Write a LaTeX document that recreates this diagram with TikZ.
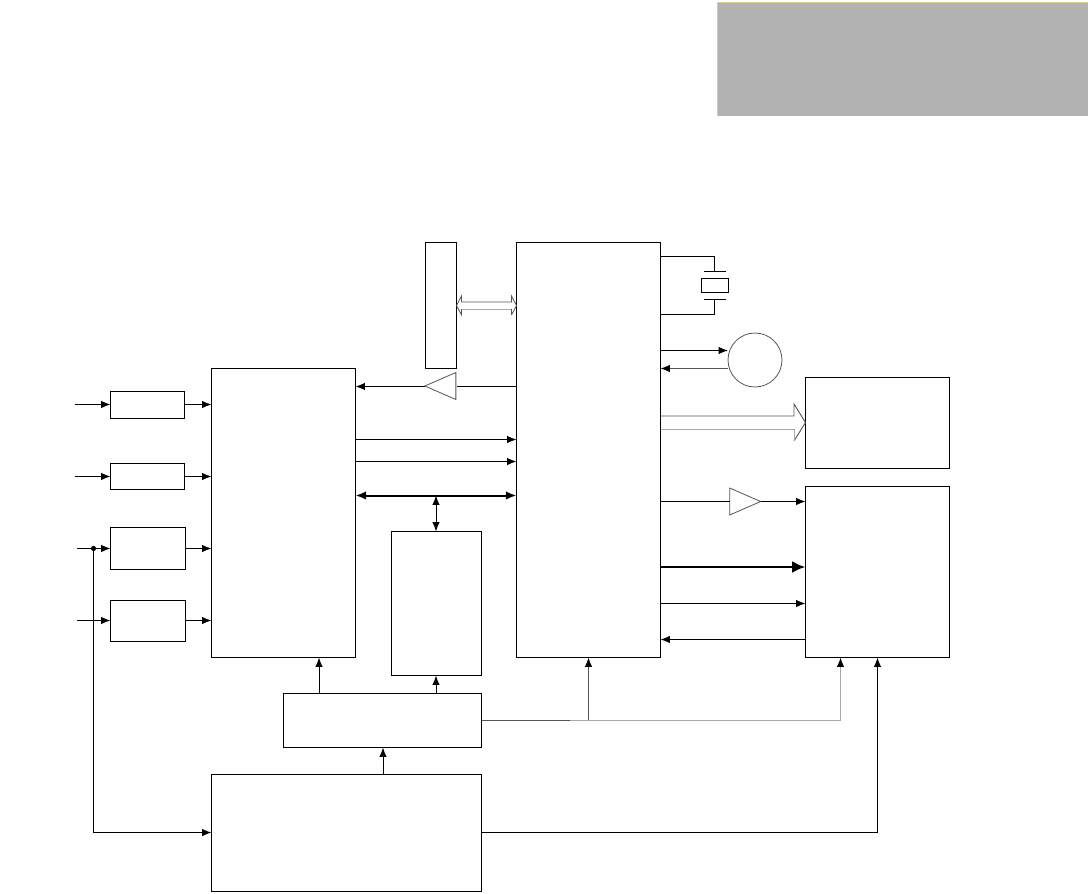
\documentclass[tikz,border=0pt]{standalone}
\usetikzlibrary{arrows.meta,shapes.geometric,calc}
\definecolor{panel}{HTML}{B2B2B2}
\definecolor{paneledge}{HTML}{DCCB92}
\definecolor{linedark}{HTML}{555555}
\definecolor{linelight}{HTML}{A8A8A8}
\newcommand{\bx}[5]{%
  \pgfmathsetmacro{\bxw}{(#4-#2)*0.75}\pgfmathsetmacro{\bxh}{(#5-#3)*0.75}%
  \node[boxn,minimum width=\bxw pt,minimum height=\bxh pt] (#1) at ({(#2+#4)/2+0.5},{(#3+#5)/2+0.5}) {};}
\tikzset{
  x=0.75pt,y=-0.75pt,
  boxn/.style={draw=black,line width=0.75pt,inner sep=0pt,outer sep=0pt,fill=white},
  conn/.style={draw=black,line width=0.75pt,-{Latex[length=7pt,width=5.5pt,color=black]}},
  plainconn/.style={draw=black,line width=0.75pt},
  biconn/.style={draw=black,line width=0.75pt,{Latex[length=7pt,width=5.5pt]}-{Latex[length=7pt,width=5.5pt]}},
  thickbi/.style={draw=black,line width=1.5pt,{Latex[length=8pt,width=6.5pt]}-{Latex[length=8pt,width=6.5pt]}},
  thickconn/.style={draw=black,line width=2pt,-{Latex[length=10pt,width=9pt]}},
  amp/.style={draw=linedark,line width=0.6pt,isosceles triangle,isosceles triangle stretches,inner sep=0pt,outer sep=0pt,fill=white,minimum width=27*0.75pt,minimum height=31*0.75pt},
  thin/.style={draw=linedark,line width=0.7pt},
  light/.style={draw=linelight,line width=0.7pt},
}
\begin{document}
\begin{tikzpicture}
\useasboundingbox (0,0) rectangle (1088,893);
% panel
\node[fill=panel,draw=none,inner sep=0pt,outer sep=0pt,minimum width=371*0.75pt,minimum height=114*0.75pt] (panel) at (902.5,59) {};
\draw[paneledge,line width=0.6pt] (panel.south west) -- (panel.north west) -- (panel.north east);
% boxes
\bx{sa}{110}{391}{184}{418}
\bx{sb}{110}{463}{184}{489}
\bx{sc}{110}{527}{185}{569}
\bx{sd}{110}{600}{185}{641}
\bx{main}{211}{368}{355}{657}
\bx{tall}{425}{242}{456}{368}
\bx{mcu}{516}{242}{660}{657}
\bx{cbox}{805}{377}{949}{468}
\bx{dbox}{805}{486}{949}{657}
\bx{ebox}{391}{531}{481}{675}
\bx{fbox}{283}{693}{481}{747}
\bx{gbox}{211}{774}{481}{891}
\bx{xtal}{701}{278}{728}{291.5}
\node[draw=linedark,line width=0.6pt,circle,inner sep=0pt,outer sep=0pt,minimum size=54*0.75pt] (disc) at (755,360) {};
\node[amp,shape border rotate=180] (ampl) at (447,386) {};
\node[amp] (ampr) at (738.5,501.5) {};
% free ends and levels
\coordinate (ina) at (75,404.5);
\coordinate (inb) at (75,476.5);
\coordinate (inc) at (77,548.5);
\coordinate (ind) at (77,620.5);
\coordinate (dot) at (93.5,548.5);
\coordinate (turn) at (93.5,832.5);
\coordinate (lv1) at (0,439.5);
\coordinate (lv2) at (0,461.5);
\coordinate (lv3) at (0,495.5);
\coordinate (lv4) at (0,386.5);
\coordinate (lv5) at (0,350.5);
\coordinate (lv6) at (0,368.5);
\coordinate (lv7) at (0,501.5);
\coordinate (lv8) at (0,567);
\coordinate (lv9) at (0,603.5);
\coordinate (lv10) at (0,639.5);
\coordinate (lv12) at (0,720.5);
\coordinate (cx1) at (319,0);
\coordinate (cx2) at (436,0);
\coordinate (cx3) at (383,0);
\coordinate (cx4) at (588.5,0);
\coordinate (cx5) at (840.5,0);
\coordinate (cx6) at (877.5,0);
% inputs
\draw[conn] (ina) -- (ina -| sa.west);
\draw[conn] (inb) -- (inb -| sb.west);
\draw[conn] (inc) -- (inc -| sc.west);
\draw[conn] (ind) -- (ind -| sd.west);
\fill (dot) circle (2.6);
\draw[plainconn] (dot) -- (turn);
\draw[conn] (turn) -- (turn -| gbox.west);
% small boxes to main
\draw[conn] (sa.east |- ina) -- (main.west |- ina);
\draw[conn] (sb.east |- inb) -- (main.west |- inb);
\draw[conn] (sc.east |- inc) -- (main.west |- inc);
\draw[conn] (sd.east |- ind) -- (main.west |- ind);
% main to mcu
\draw[plainconn] (mcu.west |- lv4) -- (tall.east |- lv4);
\draw[conn] (ampl.apex |- lv4) -- (main.east |- lv4);
\draw[conn] (main.east |- lv1) -- (mcu.west |- lv1);
\draw[conn] (main.east |- lv2) -- (mcu.west |- lv2);
\draw[thickbi] (main.east |- lv3) -- (mcu.west |- lv3);
\draw[biconn] (cx2 |- lv3) -- (ebox.north -| cx2);
% hollow double bus
\coordinate (busl) at (tall.east |- 0,305.5);
\coordinate (busr) at (mcu.west |- 0,305.5);
\draw[draw=linedark,line width=0.6pt,line join=miter]
  ($(busl)+(5,-3.5)$) -- ($(busr)+(-5,-3.5)$) -- ($(busr)+(-5,-9.5)$) -- (busr)
  -- ($(busr)+(-5,9.5)$);
\draw[draw=linedark,line width=0.6pt] (busl) -- ($(busl)+(5,-9.5)$) -- ($(busl)+(5,-3.5)$);
\draw[draw=linedark,line width=0.6pt] (busl) -- ($(busl)+(5,9.5)$) -- ($(busl)+(5,3.5)$);
\draw[draw=linelight,line width=0.7pt] ($(busl)+(5,3.5)$) -- ($(busr)+(-5,3.5)$);
\draw[draw=linedark,line width=0.6pt] ($(busr)+(-5,9.5)$) -- ($(busr)+(-5,3.5)$);
% crystal
\coordinate (xa) at (714.5,256.5);
\coordinate (xb) at (714.5,314.5);
\coordinate (pa) at (714.5,271.5);
\coordinate (pb) at (714.5,299.5);
\draw[plainconn] (mcu.east |- xa) -- (xa) -- (pa);
\draw[plainconn] (mcu.east |- xb) -- (xb) -- (pb);
\draw[plainconn] ($(pa)+(-11,0)$) -- ($(pa)+(11,0)$);
\draw[plainconn] ($(pb)+(-11,0)$) -- ($(pb)+(11,0)$);
% disc
\draw[conn] (mcu.east |- lv5) -- (disc.west |- lv5);
\draw[conn,draw=linedark,line width=0.7pt] (disc.west |- lv6) -- (mcu.east |- lv6);
% wide arrow
\coordinate (wa) at (mcu.east |- 0,422.5);
\coordinate (wb) at (cbox.west |- 0,422.5);
\draw[thin] ($(wa)+(0,-6.5)$) -- ($(wb)+(-11.5,-6.5)$) -- ($(wb)+(-11.5,-18.5)$) -- (wb);
\draw[light] ($(wa)+(0,6.5)$) -- ($(wb)+(-11.5,6.5)$);
\draw[thin] (wb) -- ($(wb)+(-11.5,18.5)$);
\draw[light] ($(wb)+(-11.5,18.5)$) -- ($(wb)+(-11.5,6.5)$);
% amp right and outputs
\draw[plainconn] (mcu.east |- lv7) -- (ampr.west |- lv7);
\draw[conn] (ampr.apex |- lv7) -- (dbox.west |- lv7);
\draw[thickconn] (mcu.east |- lv8) -- (dbox.west |- lv8);
\draw[conn] (mcu.east |- lv9) -- (dbox.west |- lv9);
\draw[conn] (dbox.west |- lv10) -- (mcu.east |- lv10);
% power
\draw[conn] (cx1 |- fbox.north) -- (cx1 |- main.south);
\draw[conn] (cx2 |- fbox.north) -- (cx2 |- ebox.south);
\draw[conn] (cx3 |- gbox.north) -- (cx3 |- fbox.south);
\coordinate (jn) at (cx4 |- lv12);
\draw[conn,draw=linedark,line width=0.7pt] (jn) -- (cx4 |- mcu.south);
\draw[draw=linedark,line width=0.7pt] (fbox.east |- lv12) -- (570,720.5);
\draw[draw=linelight,line width=0.8pt] (570,720.5) -- (jn);
\draw[conn,draw=linelight,line width=0.8pt] (jn) -- (cx5 |- lv12) -- (cx5 |- dbox.south);
\draw[plainconn] (gbox.east |- turn) -- (cx6 |- turn);
\draw[conn] (cx6 |- turn) -- (cx6 |- dbox.south);
\end{tikzpicture}
\end{document}
